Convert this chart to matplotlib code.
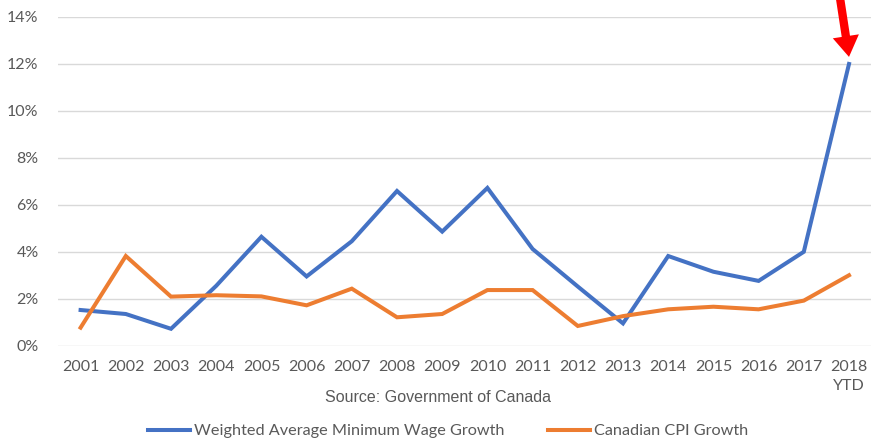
import numpy as np
import matplotlib.pyplot as plt

years = ['2001', '2002', '2003', '2004', '2005', '2006', '2007', '2008', '2009',
         '2010', '2011', '2012', '2013', '2014', '2015', '2016', '2017', '2018\nYTD']
min_wage_growth = [1.52, 1.35, 0.72, 2.55, 4.64, 2.95, 4.45, 6.59, 4.86,
                   6.72, 4.12, 2.52, 0.95, 3.82, 3.15, 2.76, 4.0, 12.0]
cpi_growth = [0.77, 3.82, 2.09, 2.15, 2.1, 1.72, 2.43, 1.21, 1.35,
              2.37, 2.37, 0.84, 1.26, 1.55, 1.66, 1.55, 1.92, 3.0]

plt.rcParams['font.family'] = ['Lato', 'DejaVu Sans']

fig = plt.figure(figsize=(8.71, 4.38), dpi=100)
ax = fig.add_axes([58 / 871, 1 - 345.7 / 438, (871.6 - 58) / 871, (345.7 - 17) / 438])

x = np.arange(len(years))
ax.plot(x, min_wage_growth, color='#4472C4', lw=2.9, solid_joinstyle='miter',
        label='Weighted Average Minimum Wage Growth')
ax.plot(x, cpi_growth, color='#ED7D31', lw=2.9, solid_joinstyle='miter',
        label='Canadian CPI Growth')

ax.set_xlim(-0.5, len(years) - 0.5)
ax.set_ylim(0, 14)
ax.set_yticks(range(0, 15, 2))
ax.set_yticklabels([f'{v}%' for v in range(0, 15, 2)])
ax.set_xticks(x)
ax.set_xticklabels(years, linespacing=1.45)
ax.tick_params(length=0, labelsize=11.5, labelcolor='#595959')
ax.tick_params(axis='y', pad=14)
ax.tick_params(axis='x', pad=10)
ax.grid(axis='y', color='#D9D9D9', lw=1)
ax.set_axisbelow(True)
for s in ax.spines.values():
    s.set_visible(False)

# red arrow pointing at the 2018 figure
ax.annotate('', xy=(17, 12.3), xytext=(16.77, 15.2), annotation_clip=False,
            arrowprops=dict(arrowstyle='simple,head_width=1.9,head_length=1.5,tail_width=0.6',
                            color='#FF0000', lw=0, shrinkA=0, shrinkB=0))

fig.text(438 / 871, 1 - 397 / 438, 'Source: Government of Canada',
         family='Liberation Sans', fontsize=11.5, color='#595959', ha='center', va='center')

fig.legend(loc='center', bbox_to_anchor=(448 / 871, 1 - 431 / 438), ncol=2,
           frameon=False, fontsize=11.7, labelcolor='#595959', handlelength=2.6,
           handletextpad=0.25, columnspacing=2.65)

fig.savefig('out.png', dpi=100)
